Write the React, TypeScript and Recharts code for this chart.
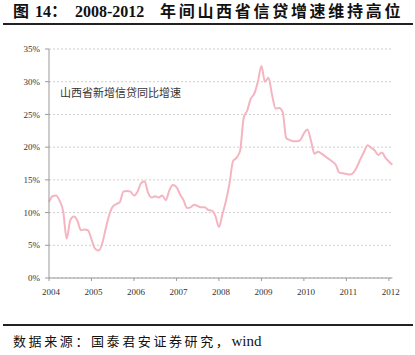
import React from 'react';
import { LineChart, Line, XAxis, YAxis, CartesianGrid } from 'recharts';

// Monthly Shanxi new-loan growth (%), Jan 2004 – Feb 2012
const growth: number[] = [
  11.6, 12.5, 12.6, 11.8, 10.2, 6.0, 8.8, 9.4, 8.8, 7.3, 7.4, 7.3,
  5.9, 4.5, 4.2, 5.2, 7.5, 9.6, 10.9, 11.3, 11.6, 13.2, 13.3, 13.2,
  12.6, 13.2, 14.5, 14.8, 13.0, 12.3, 12.5, 12.3, 12.6, 11.9, 13.4, 14.2,
  13.9, 12.8, 11.9, 10.7, 10.8, 11.2, 11.0, 10.8, 10.8, 10.4, 10.3, 9.5,
  7.8, 9.8, 11.8, 14.5, 17.9, 18.4, 19.5, 24.5, 25.6, 27.4, 28.2, 30.0,
  32.4, 30.0, 30.6, 28.0, 25.9, 26.0, 25.4, 21.4, 21.1, 20.9, 20.9, 21.1,
  22.1, 22.7, 21.0, 19.0, 19.3, 19.0, 18.6, 18.2, 17.8, 17.3, 16.1, 16.0,
  15.9, 15.8, 16.1, 17.0, 18.2, 19.3, 20.3, 19.9, 19.5, 18.8, 19.2, 18.4,
  17.8, 17.3,
];

const yearLabels: string[] = ['2004', '2005', '2006', '2007', '2008', '2009', '2010', '2011', '2012'];
const yTicks: number[] = [0, 5, 10, 15, 20, 25, 30, 35];
const seriesName = '山西省新增信贷同比增速';
const titleParts = { fig: '图', num: '14：', range: '2008-2012', rest: '年间山西省信贷增速维持高位' };
const sourceParts = { cjk: '数据来源：国泰君安证券研究，', latin: 'wind' };

const data = growth.map((v, i) => ({ i, v }));
const xTicks = yearLabels.map((_, k) => k * 12);

const serif = '"Liberation Serif", "Times New Roman", serif';
const cjk = '"Liberation Serif", "Noto Sans CJK SC", serif';

export default function App() {
  return (
    <div style={{ position: 'absolute', left: 0, top: 0, width: 415, height: 355, background: '#fff', overflow: 'hidden' }}>
      <div style={{ position: 'absolute', top: 3, left: 13, width: 400, height: 20, fontFamily: cjk, fontWeight: 700, fontSize: 16, color: '#111', whiteSpace: 'nowrap', lineHeight: '18px' }}>
        <span style={{ position: 'absolute', left: 0 }}>{titleParts.fig}</span>
        <span style={{ position: 'absolute', left: 22 }}>{titleParts.num}</span>
        <span style={{ position: 'absolute', left: 62 }}>{titleParts.range}</span>
        <span style={{ position: 'absolute', left: 147, letterSpacing: 2.7 }}>{titleParts.rest}</span>
      </div>
      <div style={{ position: 'absolute', top: 23, left: 3, width: 410, height: 2, background: '#222' }} />

      <div style={{ position: 'absolute', top: 0, left: 0 }}>
        <LineChart width={415} height={320} data={data} margin={{ top: 49, right: 22.6, bottom: 0, left: 0 }}>
          <CartesianGrid vertical={false} stroke="#cfcfcf" strokeDasharray="2 2" />
          <XAxis
            type="number"
            dataKey="i"
            domain={[0, 97]}
            ticks={xTicks}
            tickFormatter={(v: number) => yearLabels[Math.round(v / 12)]}
            height={42}
            tickSize={3}
            tickMargin={8}
            axisLine={{ stroke: '#999' }}
            tickLine={{ stroke: '#999' }}
            tick={{ fontSize: 9, fontFamily: serif, fill: '#333', dx: 2 }}
            interval={0}
          />
          <YAxis
            type="number"
            domain={[0, 35]}
            ticks={yTicks}
            tickFormatter={(v: number) => `${v}%`}
            width={49}
            tickSize={4}
            tickMargin={5}
            axisLine={{ stroke: '#999' }}
            tickLine={{ stroke: '#999' }}
            tick={{ fontSize: 9, fontFamily: serif, fill: '#333' }}
            interval={0}
          />
          <Line
            type="monotone"
            dataKey="v"
            name={seriesName}
            stroke="#f5b5c0"
            strokeWidth={2}
            dot={false}
            isAnimationActive={false}
          />
        </LineChart>
      </div>

      <div style={{ position: 'absolute', top: 86, left: 60, fontFamily: '"Noto Sans CJK SC", sans-serif', fontSize: 11, color: '#333', whiteSpace: 'nowrap', lineHeight: '13px' }}>
        {seriesName}
      </div>

      <div style={{ position: 'absolute', top: 324, left: 3, width: 410, height: 2, background: '#222' }} />
      <div style={{ position: 'absolute', top: 334, left: 13, fontFamily: cjk, fontSize: 13, color: '#111', whiteSpace: 'nowrap', lineHeight: '15px' }}>
        <span style={{ letterSpacing: 2.6 }}>{sourceParts.cjk}</span>
        <span style={{ fontSize: 15 }}>{sourceParts.latin}</span>
      </div>
    </div>
  );
}
